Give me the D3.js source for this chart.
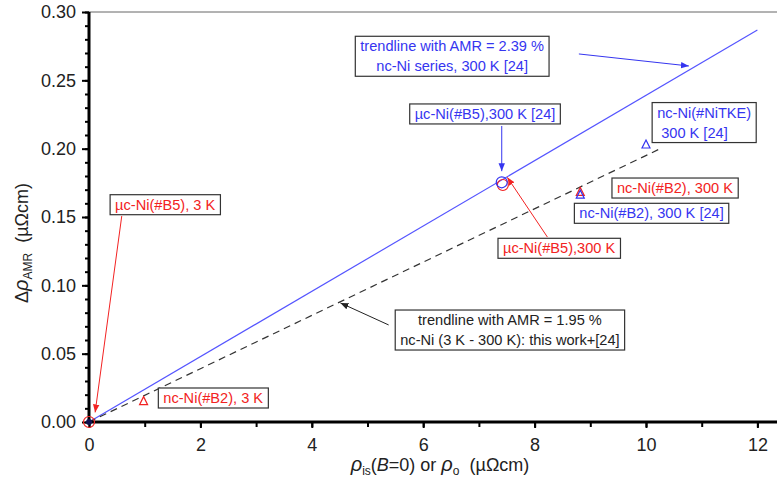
<!DOCTYPE html>
<html>
<head>
  <title>AMR vs resistivity</title>
  <script src="https://d3js.org/d3.v7.min.js"></script>
  <style>
    body { margin: 0; background: #fff; }
    text { font-family: "Liberation Sans", Arial, sans-serif; white-space: pre; }
  </style>
</head>
<body>
  <div id="chart"></div>

  <script>
    // data
    var xTicks = [0, 2, 4, 6, 8, 10, 12];
    var yTicks = [0.00, 0.05, 0.10, 0.15, 0.20, 0.25, 0.30];

    // trendlines: slope (= AMR) and x extent
    var trendSlopes = [0.0239, 0.0195];
    var trendEnds = [12, 10.3];

    // literature points, 300 K [24] (blue)
    var refX = [7.41, 8.82, 10.0];
    var refY = [0.1754, 0.166, 0.2027];
    var refShape = ["circle", "triangle", "triangle"];

    // this work (red)
    var workX = [0, 0.98, 7.43, 8.82];
    var workY = [0, 0.0149, 0.1734, 0.168];
    var workShape = ["circle", "triangle", "circle", "triangle"];

    var width = 777, height = 481;
    var margin = {top: 12, left: 89, bottom: 59};
    var pxPerUnit = 55.7;

    var svg = d3.select("#chart")
      .append("svg")
      .attr("width", width)
      .attr("height", height);

    var x = d3.scaleLinear()
      .domain([0, 12.4])
      .range([margin.left, margin.left + 12.4 * pxPerUnit]);

    var y = d3.scaleLinear()
      .domain([0, 0.30])
      .range([height - margin.bottom, margin.top]);

    var blue = "#3535f0", red = "#f22222";

    var defs = svg.append("defs");
    [["blue", blue], ["red", red], ["black", "#222"]].forEach(function(m) {
      defs.append("marker")
        .attr("id", "arr-" + m[0])
        .attr("viewBox", "0 0 10 10")
        .attr("refX", 10).attr("refY", 5)
        .attr("markerWidth", 8).attr("markerHeight", 8)
        .attr("markerUnits", "userSpaceOnUse")
        .attr("orient", "auto")
        .append("path")
        .attr("d", "M0,1 L10,5 L0,9 Z")
        .attr("fill", m[1]);
    });

    // top frame line
    svg.append("line")
      .attr("x1", x(0)).attr("x2", width)
      .attr("y1", y(0.30)).attr("y2", y(0.30))
      .attr("stroke", "#666").attr("stroke-width", 1);

    // trendlines
    svg.append("line")
      .attr("x1", x(0)).attr("y1", y(0))
      .attr("x2", x(trendEnds[0])).attr("y2", y(trendSlopes[0] * trendEnds[0]))
      .attr("stroke", "#5555ff").attr("stroke-width", 1.2);

    svg.append("line")
      .attr("x1", x(0)).attr("y1", y(0))
      .attr("x2", x(trendEnds[1])).attr("y2", y(trendSlopes[1] * trendEnds[1]))
      .attr("stroke", "#333").attr("stroke-width", 1.2)
      .attr("stroke-dasharray", "7,5");

    // minor ticks
    var yMinor = d3.range(0, 0.3001, 0.01);
    var xMinor = d3.range(0, 12.5, 1);

    svg.append("g")
      .attr("transform", "translate(" + x(0) + ",0)")
      .call(d3.axisLeft(y).tickValues(yMinor).tickSize(4).tickFormat(""))
      .call(function(g) { g.select(".domain").remove(); })
      .selectAll("line").attr("stroke-width", 2);

    svg.append("g")
      .attr("transform", "translate(0," + y(0) + ")")
      .call(d3.axisBottom(x).tickValues(xMinor).tickSize(5).tickFormat(""))
      .call(function(g) { g.select(".domain").remove(); })
      .selectAll("line").attr("stroke-width", 2);

    // main axes
    var yAxis = svg.append("g")
      .attr("transform", "translate(" + x(0) + ",0)")
      .call(d3.axisLeft(y).tickValues(yTicks).tickSize(7).tickPadding(6)
        .tickFormat(d3.format(".2f")));

    var xAxis = svg.append("g")
      .attr("transform", "translate(0," + y(0) + ")")
      .call(d3.axisBottom(x).tickValues(xTicks).tickSize(6).tickPadding(10)
        .tickFormat(d3.format("d")));

    [yAxis, xAxis].forEach(function(g) {
      g.select(".domain").remove();
      g.selectAll(".tick line").attr("stroke-width", 2);
      g.selectAll(".tick text")
        .attr("font-size", 18)
        .attr("fill", "#222")
        .style("font-family", "'Liberation Sans', Arial, sans-serif");
    });

    svg.append("line")
      .attr("x1", x(0)).attr("x2", x(0))
      .attr("y1", y(0.30)).attr("y2", y(0) + 1.5)
      .attr("stroke", "#000").attr("stroke-width", 3);
    svg.append("line")
      .attr("x1", x(0) - 1.5).attr("x2", width)
      .attr("y1", y(0)).attr("y2", y(0))
      .attr("stroke", "#000").attr("stroke-width", 3);

    // axis titles
    var yt = svg.append("text")
      .attr("transform", "translate(28," + 243 + ") rotate(-90)")
      .attr("text-anchor", "middle")
      .attr("font-size", 18)
      .attr("fill", "#222");
    yt.append("tspan").text("Δ");
    yt.append("tspan").attr("font-style", "italic").attr("font-size", 20).text("ρ");
    yt.append("tspan").attr("font-size", 12).attr("dy", 4).text("AMR");
    yt.append("tspan").attr("dy", -4).text("  (µΩcm)");

    var xt = svg.append("text")
      .attr("x", 440).attr("y", 471)
      .attr("text-anchor", "middle")
      .attr("font-size", 18)
      .attr("fill", "#222");
    xt.append("tspan").attr("font-style", "italic").attr("font-size", 20).text("ρ");
    xt.append("tspan").attr("font-size", 12).attr("dy", 4).text("is");
    xt.append("tspan").attr("dy", -4).text("(");
    xt.append("tspan").attr("font-style", "italic").text("B");
    xt.append("tspan").text("=0) or ");
    xt.append("tspan").attr("font-style", "italic").attr("font-size", 20).text("ρ");
    xt.append("tspan").attr("font-size", 12).attr("dy", 4).text("o");
    xt.append("tspan").attr("dy", -4).text("  (µΩcm)");

    // markers
    function drawPoints(xs, ys, shapes, color, r) {
      shapes.forEach(function(s, i) {
        var px = x(xs[i]), py = y(ys[i]);
        if (s === "circle") {
          svg.append("circle")
            .attr("cx", px).attr("cy", py).attr("r", r)
            .attr("fill", "none").attr("stroke", color).attr("stroke-width", 1.2);
        } else {
          svg.append("path")
            .attr("d", "M" + px + "," + (py - 5) + " L" + (px + 4) + "," + (py + 3) +
              " L" + (px - 4) + "," + (py + 3) + " Z")
            .attr("fill", "none").attr("stroke", color).attr("stroke-width", 1.2);
        }
      });
    }
    drawPoints(workX, workY, workShape, red, 5.5);
    drawPoints(refX, refY, refShape, blue, 5.5);
    svg.append("circle")
      .attr("cx", x(0)).attr("cy", y(0)).attr("r", 3)
      .attr("fill", "#101050");

    // annotation boxes (centre in data units)
    var notes = [
      {lines: ["trendline with AMR = 2.39 %", "nc-Ni series, 300 K [24]"], cx: 6.52, cy: 0.2676, color: blue},
      {lines: ["µc-Ni(#B5),300 K [24]"], cx: 7.11, cy: 0.2254, color: blue},
      {lines: ["nc-Ni(#NiTKE)", " 300 K [24]"], cx: 11.13, cy: 0.2191, color: blue, left: 10.2},
      {lines: ["nc-Ni(#B2), 300 K"], cx: 10.52, cy: 0.1712, color: red},
      {lines: ["nc-Ni(#B2), 300 K [24]"], cx: 10.10, cy: 0.1527, color: blue},
      {lines: ["µc-Ni(#B5),300 K"], cx: 8.44, cy: 0.1271, color: red},
      {lines: ["µc-Ni(#B5), 3 K"], cx: 1.367, cy: 0.1590, color: red},
      {lines: ["trendline with AMR = 1.95 %", "nc-Ni (3 K - 300 K): this work+[24]"], cx: 7.557, cy: 0.0673, color: "#222"},
      {lines: ["nc-Ni(#B2), 3 K"], cx: 2.23, cy: 0.01756, color: red}
    ];

    notes.forEach(function(n) {
      var g = svg.append("g");
      var lh = 20;
      var tx = n.left !== undefined ? x(n.left) : x(n.cx);
      var t = g.append("text")
        .attr("font-size", 14.6)
        .attr("fill", n.color)
        .attr("text-anchor", n.left !== undefined ? "start" : "middle");
      n.lines.forEach(function(l, i) {
        t.append("tspan")
          .attr("x", tx)
          .attr("y", y(n.cy) + (i - (n.lines.length - 1) / 2) * lh + 5)
          .text(l);
      });
      var bb = t.node().getBBox();
      g.insert("rect", "text")
        .attr("x", bb.x - 5).attr("y", bb.y - 2)
        .attr("width", bb.width + 10).attr("height", bb.height + 4)
        .attr("fill", "#fff").attr("stroke", "#333").attr("stroke-width", 1.2);
    });

    // arrows
    var arrows = [
      {from: [8.795, 0.2693], to: [10.77, 0.2605], c: "blue"},
      {from: [7.41, 0.2166], to: [7.41, 0.1835], c: "blue"},
      {from: [8.23, 0.1353], to: [7.51, 0.1790], c: "red"},
      {from: [0.588, 0.1507], to: [0.11, 0.0070], c: "red"},
      {from: [5.38, 0.0710], to: [4.514, 0.0871], c: "black"}
    ];
    var arrowColor = {blue: blue, red: red, black: "#222"};

    arrows.forEach(function(a) {
      svg.append("line")
        .attr("x1", x(a.from[0])).attr("y1", y(a.from[1]))
        .attr("x2", x(a.to[0])).attr("y2", y(a.to[1]))
        .attr("stroke", arrowColor[a.c]).attr("stroke-width", 1)
        .attr("marker-end", "url(#arr-" + a.c + ")");
    });
  </script>
</body>
</html>
